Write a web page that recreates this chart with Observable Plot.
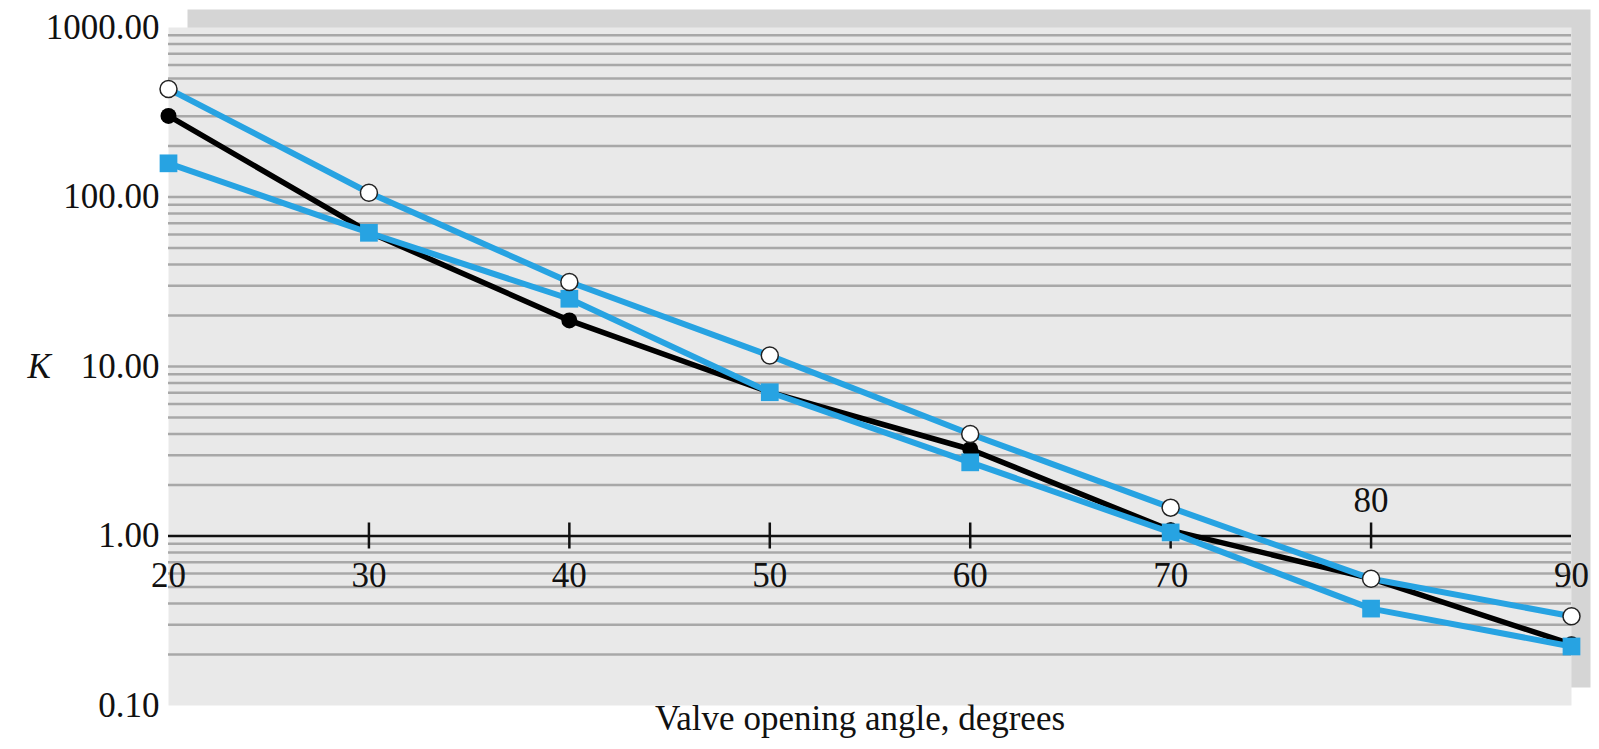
<!DOCTYPE html>
<html><head><meta charset="utf-8">
<script src="https://cdn.jsdelivr.net/npm/d3@7"></script>
<script src="https://cdn.jsdelivr.net/npm/@observablehq/plot@0.6"></script>
<style>body{margin:0;background:#fff}</style>
</head><body><div id="chart"></div>
<script>
// Valve opening angle (degrees)
const angles = [20, 30, 40, 50, 60, 70, 80, 90];
// Loss coefficient K for the three curves
const kOpenCircle = [434, 106, 31.5, 11.6, 4.0, 1.47, 0.56, 0.336];
const kFilledCircle = [301, 62, 18.7, 7.05, 3.25, 1.08, 0.56, 0.23];
const kSquare = [158, 61.5, 25.1, 7.05, 2.72, 1.05, 0.373, 0.223];
// Axis ticks
const yTicks = [0.1, 1, 10, 100, 1000];
const xTickMarks = [30, 40, 50, 60, 70, 80];
const xLabelsBelow = [20, 30, 40, 50, 60, 70, 90];
const xLabelsAbove = [80];
const gridValues = [0.2, 0.3, 0.4, 0.5, 0.6, 0.7, 0.8, 0.9,
  2, 3, 4, 5, 6, 7, 8, 9, 10,
  20, 30, 40, 50, 60, 70, 80, 90, 100,
  200, 300, 400, 500, 600, 700, 800, 900];

const toRows = (vals) => angles.map((a, i) => ({angle: a, k: vals[i]}));
const openRows = toRows(kOpenCircle);
const filledRows = toRows(kFilledCircle);
const squareRows = toRows(kSquare);

const blue = "#27a3e2";
const fs = 35;

const chart = Plot.plot({
  width: 1599, height: 749,
  marginLeft: 168, marginRight: 28, marginTop: 27, marginBottom: 44,
  style: {fontFamily: "'Liberation Serif', 'Times New Roman', serif", fontSize: fs + "px", color: "#111", background: "#fff", overflow: "visible"},
  x: {domain: [20, 90], axis: null},
  y: {type: "log", domain: [0.1, 1000], axis: null},
  marks: [
    Plot.frame({fill: "#d5d5d5", stroke: "none", dx: 19, dy: -18}),
    Plot.frame({fill: "#e9e9e9", stroke: "none"}),
    Plot.ruleY(gridValues, {stroke: "#a8a8a8", strokeWidth: 2.5}),
    Plot.ruleY([1], {stroke: "#111", strokeWidth: 2.5}),
    Plot.ruleX(xTickMarks, {x: d => d, y1: () => 1, y2: () => 1, insetTop: -13, insetBottom: -13, stroke: "#111", strokeWidth: 2.5}),
    Plot.axisY(yTicks, {tickSize: 0, tickPadding: 9, tickFormat: d3.format(".2f"), fontSize: fs, label: null}),
    Plot.text(xLabelsBelow, {x: d => d, y: () => 1, dy: 40, fontSize: fs, fill: "#111"}),
    Plot.text(xLabelsAbove, {x: d => d, y: () => 1, dy: -35, fontSize: fs, fill: "#111"}),
    Plot.text(["K"], {frameAnchor: "left", y: () => 10, dx: -141, fontStyle: "italic", fontSize: fs, fill: "#111"}),
    Plot.text(["Valve opening angle, degrees"], {frameAnchor: "bottom", dy: 24, dx: -10, fontSize: fs, fill: "#111"}),
    // black curve
    Plot.line(filledRows, {x: "angle", y: "k", stroke: "#000", strokeWidth: 5.5}),
    Plot.dot(filledRows, {x: "angle", y: "k", fill: "#000", r: 8}),
    // blue curves
    Plot.line(squareRows, {x: "angle", y: "k", stroke: blue, strokeWidth: 6}),
    Plot.line(openRows, {x: "angle", y: "k", stroke: blue, strokeWidth: 6}),
    Plot.dot(squareRows, {x: "angle", y: "k", symbol: "square", fill: blue, r: 10}),
    Plot.dot(openRows, {x: "angle", y: "k", fill: "#fff", stroke: "#222", strokeWidth: 1.5, r: 8.5})
  ]
});
document.getElementById("chart").appendChild(chart);
</script>
</body></html>
